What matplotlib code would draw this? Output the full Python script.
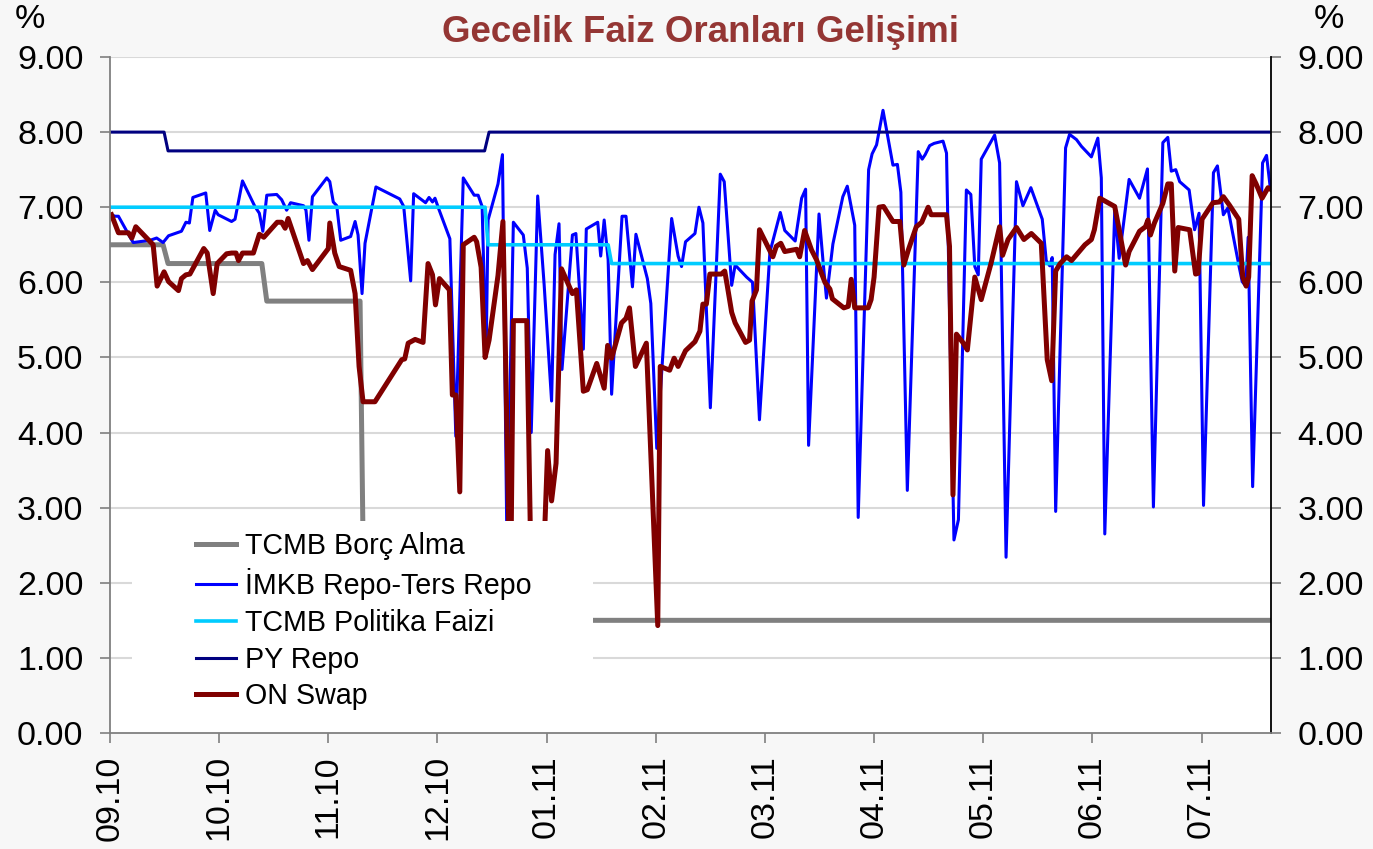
import matplotlib
matplotlib.use('Agg')
import matplotlib.pyplot as plt
from matplotlib.ticker import FormatStrFormatter
from matplotlib.patches import Rectangle
from matplotlib.lines import Line2D

plt.rcParams['font.family'] = ['Liberation Sans', 'DejaVu Sans']

# ---------------- data (x = trading-day index from 01.09.2010) ----------------
month_labels = ['09.10', '10.10', '11.10', '12.10', '01.11', '02.11',
                '03.11', '04.11', '05.11', '06.11', '07.11']
month_tick_idx = [0, 22, 44, 66, 88, 110, 132, 154, 176, 198, 220]
last_idx = 234

borc_x = [0, 10.7, 11.7, 30.6, 31.6, 50.4, 51.2, 234]
borc_y = [6.50, 6.50, 6.25, 6.25, 5.75, 5.75, 1.50, 1.50]

politika_x = [0, 75.6, 76.2, 100.4, 101.1, 234]
politika_y = [7.00, 7.00, 6.50, 6.50, 6.25, 6.25]

pyrepo_x = [0, 10.9, 11.7, 75.5, 76.4, 234]
pyrepo_y = [8.00, 8.00, 7.75, 7.75, 8.00, 8.00]

imkb_x = [0.3, 1.0, 1.7, 4.4, 4.7, 8.1, 9.4, 10.7, 11.8, 14.4, 15.3, 16.0, 16.7, 19.3,
          20.1, 21.2, 21.8, 24.5, 25.2, 26.7, 29.2, 30.1, 30.8, 31.6, 33.6, 34.6, 35.6,
          36.4, 39.0, 39.5, 40.1, 40.8, 43.7, 44.3, 45.0, 45.7, 46.5, 48.5, 49.4, 50.0,
          50.8, 51.4, 53.6, 58.4, 59.2, 60.6, 61.2, 63.6, 64.3, 65.0, 65.5, 66.3, 68.5,
          69.7, 71.2, 73.4, 74.2, 75.0, 75.8, 76.2, 78.2, 79.1, 80.0, 81.3, 83.3, 84.1,
          84.9, 86.2, 87.5, 89.0, 89.7, 90.5, 91.1, 93.2, 93.9, 95.4, 96.0, 98.3, 98.9,
          99.6, 100.4, 101.1, 103.2, 104.0, 105.3, 106.0, 108.3, 109.0, 110.2, 113.2,
          114.5, 115.2, 116.0, 117.9, 118.7, 119.5, 121.0, 123.0, 123.8, 125.3, 126.0,
          128.3, 129.5, 130.9, 133.0, 135.1, 136.0, 138.1, 139.4, 140.2, 140.8, 142.9,
          143.7, 144.4, 145.7, 147.7, 148.6, 150.1, 150.8, 152.9, 153.6, 154.5, 155.8,
          157.8, 158.7, 159.4, 160.7, 162.9, 163.7, 164.3, 165.2, 166.1, 167.9, 168.6,
          170.1, 171.0, 172.6, 173.5, 174.3, 175.0, 175.6, 178.3, 179.3, 180.6, 182.7,
          184.0, 185.6, 187.9, 188.7, 189.4, 189.9, 190.6, 192.6, 193.4, 194.8, 195.8,
          197.8, 199.1, 199.8, 200.5, 202.5, 203.4, 205.4, 207.5, 209.1, 210.3, 212.2,
          213.2, 213.9, 214.8, 215.6, 217.5, 218.6, 219.5, 220.4, 222.4, 223.2, 224.4,
          225.3, 227.6, 228.2, 228.9, 229.4, 230.3, 232.3, 233.1, 233.8]
imkb_y = [6.90, 6.88, 6.88, 6.56, 6.53, 6.56, 6.59, 6.53, 6.62, 6.68, 6.80, 6.79, 7.13, 7.19,
          6.69, 6.96, 6.90, 6.81, 6.84, 7.35, 7.01, 6.92, 6.68, 7.16, 7.17, 7.10, 6.96,
          7.06, 7.02, 6.96, 6.56, 7.14, 7.39, 7.34, 7.07, 7.02, 6.56, 6.61, 6.81, 6.63,
          5.85, 6.52, 7.27, 7.11, 7.01, 6.02, 7.18, 7.06, 7.13, 7.07, 7.12, 6.97, 6.58,
          3.95, 7.39, 7.16, 7.16, 7.01, 5.02, 6.83, 7.31, 7.70, 2.50, 6.80, 6.63, 6.19,
          4.00, 7.15, 5.97, 4.42, 6.37, 6.78, 4.84, 6.63, 6.65, 5.11, 6.71, 6.80, 6.35,
          6.83, 6.30, 4.51, 6.88, 6.88, 5.94, 6.64, 6.05, 5.72, 3.79, 6.85,
          6.35, 6.21, 6.54, 6.65, 7.00, 6.79, 4.33, 7.44, 7.34, 5.96, 6.23,
          6.07, 6.00, 4.17, 6.40, 6.93, 6.69, 6.55, 7.12, 7.24, 3.83, 6.91,
          6.29, 5.79, 6.51, 7.14, 7.28, 6.76, 2.87, 7.50, 7.71, 7.83, 8.29,
          7.56, 7.57, 7.20, 3.23, 7.74, 7.64, 7.70, 7.82, 7.85, 7.88, 7.72,
          2.57, 2.84, 7.23, 7.17, 6.21, 6.10, 7.64, 7.96, 7.59, 2.34, 7.34,
          7.02, 7.26, 6.84, 6.29, 6.22, 6.33, 2.95, 7.79, 7.97, 7.90, 7.81,
          7.67, 7.92, 7.39, 2.65, 6.95, 6.32, 7.37, 7.12, 7.51, 3.01, 7.86,
          7.93, 7.48, 7.50, 7.34, 7.23, 6.70, 6.92, 3.03, 7.46, 7.55, 6.90,
          6.99, 6.20, 6.01, 5.95, 6.60, 3.28, 7.59, 7.69, 7.29]

swap_x = [0.3, 1.7, 3.7, 4.4, 5.2, 8.7, 9.5, 10.9, 11.8, 13.8, 14.4, 15.3, 16.1, 18.9,
          19.6, 20.8, 21.6, 23.5, 24.5, 25.4, 25.9, 26.7, 28.9, 30.1, 31.0, 33.7, 34.6,
          35.3, 35.9, 39.0, 39.8, 40.8, 44.0, 44.3, 45.3, 46.2, 48.5, 49.4, 50.2, 51.0,
          53.4, 58.8, 59.4, 60.1, 61.5, 63.1, 64.1, 65.0, 65.6, 66.4, 68.4, 69.0, 69.7,
          70.5, 71.2, 73.4, 73.9, 74.8, 75.6, 76.4, 78.2, 79.2, 80.7, 81.3, 84.0, 85.0,
          87.0, 88.2, 89.0, 89.9, 91.0, 93.2, 94.0, 95.4, 96.2, 98.1, 99.6, 100.3, 101.1,
          103.1, 104.0, 104.7, 105.9, 108.1, 110.4, 110.9, 112.8, 113.7, 114.5, 116.0,
          117.9, 118.9, 119.5, 120.2, 120.9, 123.2, 123.9, 124.4, 125.3, 126.0, 128.1,
          128.9, 129.4, 130.3, 130.9, 133.6, 134.3, 135.2, 136.0, 138.4, 139.0, 140.0,
          141.4, 142.4, 143.4, 144.1, 145.1, 145.6, 147.9, 148.8, 149.4, 150.1, 152.8,
          153.4, 154.0, 155.0, 155.9, 157.8, 159.2, 160.0, 160.9, 162.5, 163.6, 164.9,
          165.5, 168.6, 169.2, 169.9, 170.6, 172.0, 172.8, 174.3, 175.6, 177.6, 179.3,
          179.9, 181.0, 182.7, 184.2, 185.7, 187.7, 188.9, 189.8, 190.6, 191.5, 192.8,
          193.8, 195.2, 196.5, 197.8, 198.4, 199.5, 202.5, 203.4, 204.7, 205.4, 207.5,
          208.7, 209.2, 209.7, 210.5, 212.2, 213.2, 213.9, 214.6, 215.3, 217.6, 218.8,
          219.3, 220.1, 222.3, 223.6, 224.4, 225.6, 227.5, 228.3, 229.0, 229.5, 230.2,
          231.0, 232.2, 233.4, 233.9]
swap_y = [6.90, 6.66, 6.66, 6.59, 6.74, 6.50, 5.95, 6.14, 6.01, 5.89, 6.05, 6.10, 6.11, 6.45,
          6.39, 5.85, 6.25, 6.38, 6.39, 6.39, 6.29, 6.39, 6.39, 6.64, 6.60, 6.80, 6.80,
          6.72, 6.85, 6.25, 6.29, 6.17, 6.45, 6.79, 6.39, 6.21, 6.16, 5.85, 4.88, 4.41,
          4.41, 4.97, 4.98, 5.19, 5.24, 5.20, 6.25, 6.10, 5.70, 6.05, 5.90, 4.50, 4.50,
          3.21, 6.50, 6.60, 6.54, 6.20, 5.00, 5.23, 6.09, 6.81, 1.60, 5.49, 5.49, 1.60,
          1.60, 3.76, 3.09, 3.59, 6.18, 5.85, 5.90, 4.55, 4.57, 4.92, 4.59, 5.16, 4.99,
          5.46, 5.52, 5.66, 4.88, 5.19, 1.43, 4.88, 4.83, 4.99, 4.88, 5.09,
          5.21, 5.35, 5.71, 5.71, 6.11, 6.11, 6.15, 5.96, 5.60, 5.46, 5.20,
          5.23, 5.75, 5.90, 6.70, 6.34, 6.48, 6.52, 6.41, 6.44, 6.34, 6.69,
          6.43, 6.30, 6.12, 6.00, 5.91, 5.78, 5.66, 5.68, 6.04, 5.66, 5.66,
          5.77, 6.07, 7.00, 7.01, 6.81, 6.81, 6.23, 6.43, 6.74, 6.80, 7.00,
          6.90, 6.90, 6.48, 3.17, 5.31, 5.19, 5.10, 6.07, 5.77, 6.26, 6.74,
          6.36, 6.57, 6.73, 6.57, 6.65, 6.52, 4.97, 4.69, 6.15, 6.25, 6.34,
          6.29, 6.40, 6.50, 6.57, 6.70, 7.12, 7.01, 6.70, 6.23, 6.41, 6.68,
          6.74, 6.83, 6.63, 6.79, 7.05, 7.31, 7.31, 6.15, 6.73, 6.70, 6.11,
          6.12, 6.84, 7.06, 7.07, 7.14, 7.03, 6.84, 6.07, 5.95, 6.07, 7.42,
          7.31, 7.12, 7.26, 7.24]

series_names = ['TCMB Borç Alma', 'İMKB Repo-Ters Repo', 'TCMB Politika Faizi',
                'PY Repo', 'ON Swap']
series_colors = ['#808080', '#0000FF', '#00CCFF', '#000080', '#800000']
series_widths = [3.6, 2.2, 2.6, 2.2, 3.6]

# ---------------- figure ----------------
W, H = 1373, 849
fig = plt.figure(figsize=(W / 100, H / 100), dpi=100, facecolor='#f7f7f7')
L, R, T, B = 110, 1271, 57, 733
ax = fig.add_axes([L / W, 1 - B / H, (R - L) / W, (B - T) / H])
ax.set_facecolor('white')
ax.set_xlim(0, last_idx)
ax.set_ylim(0, 9)

for yv in range(1, 10):
    ax.axhline(yv, color='#d9d9d9', lw=1.5, zorder=0.5)

data = [(borc_x, borc_y), (imkb_x, imkb_y), (politika_x, politika_y),
        (pyrepo_x, pyrepo_y), (swap_x, swap_y)]
for i, ((xs, ys), c, lw) in enumerate(zip(data, series_colors, series_widths)):
    ax.plot(xs, ys, color=c, lw=lw, solid_joinstyle='round', zorder=2 + i)

# opaque legend area
ax.add_patch(Rectangle((0.019, 0.004), 0.397, 0.3096, transform=ax.transAxes,
                       facecolor='white', edgecolor='none', zorder=10))
handles = [Line2D([], [], color=c, lw=lw) for c, lw in zip(series_colors, series_widths)]
leg = ax.legend(handles, series_names, loc='upper left', bbox_to_anchor=(0.074, 0.298),
                frameon=False, fontsize=20.6, handlelength=1.4, handletextpad=0.3,
                labelspacing=0.305, borderpad=0, borderaxespad=0)
leg.set_zorder(11)

# axes styling
ax.spines['top'].set_visible(False)
ax.spines['left'].set_color('#808080')
ax.spines['bottom'].set_color('#808080')
ax.spines['right'].set_color('#000000')
for s in ['left', 'bottom', 'right']:
    ax.spines[s].set_linewidth(1.3)
    ax.spines[s].set_zorder(12)

ax.set_yticks(range(10))
ax.yaxis.set_major_formatter(FormatStrFormatter('%.2f'))
ax.tick_params(axis='y', left=True, right=True, labelleft=True, labelright=True,
               direction='out', length=7, width=1.2, color='#808080', pad=12,
               labelsize=24.5)
ax.set_xticks(month_tick_idx)
ax.set_xticklabels(month_labels, rotation=90)
ax.tick_params(axis='x', direction='out', length=7, width=1.2, color='#808080', pad=9,
               labelsize=24.5)

fig.text(700 / W, 1 - 32 / H, 'Gecelik Faiz Oranları Gelişimi', ha='center', va='center',
         fontsize=26.5, fontweight='bold', color='#943634')
fig.text(30 / W, 1 - 20 / H, '%', ha='center', va='center', fontsize=24.5)
fig.text(1329 / W, 1 - 20 / H, '%', ha='center', va='center', fontsize=24.5)

fig.savefig('out.png', dpi=100, facecolor=fig.get_facecolor())
